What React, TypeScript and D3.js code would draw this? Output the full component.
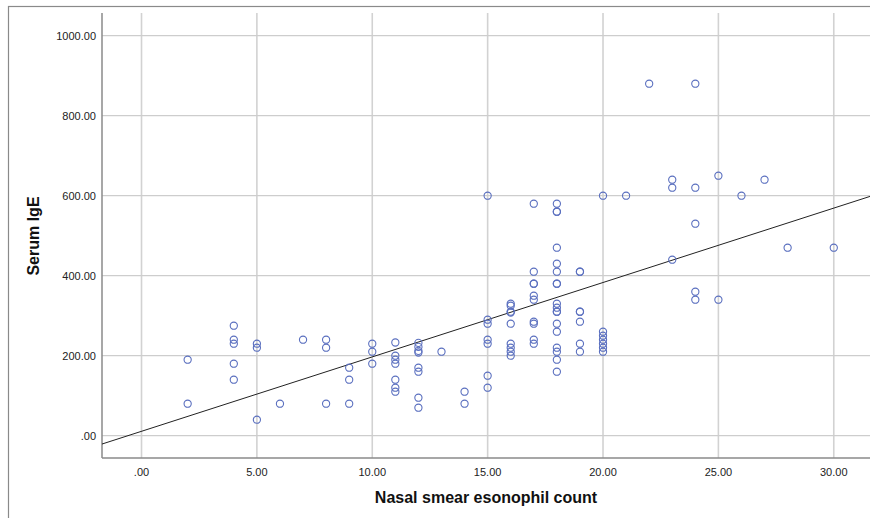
import React, { useEffect } from "react";
import * as d3 from "d3";

// eosinophil counts and the serum IgE values read at each count
const eosinophilCounts = [2, 4, 5, 6, 7, 8, 9, 10, 11, 12, 13, 14, 15, 16, 17, 18, 19, 20, 21, 22, 23, 24, 25, 26, 27, 28, 30];
const igeByCount = [
  [190, 80],
  [275, 240, 230, 180, 140],
  [230, 220, 40],
  [80],
  [240],
  [240, 220, 80],
  [170, 140, 80],
  [230, 210, 180],
  [233, 200, 190, 180, 140, 120, 110],
  [232, 222, 212, 208, 170, 160, 95, 70],
  [210],
  [110, 80],
  [600, 290, 280, 240, 230, 150, 120],
  [330, 325, 310, 308, 280, 230, 220, 210, 200],
  [580, 410, 380, 380, 350, 340, 285, 280, 240, 230],
  [580, 560, 560, 470, 430, 410, 380, 380, 330, 320, 310, 310, 280, 260, 220, 210, 190, 160],
  [410, 410, 310, 310, 285, 230, 210],
  [600, 260, 250, 240, 230, 220, 210],
  [600],
  [880],
  [640, 620, 440],
  [880, 620, 530, 360, 340],
  [650, 340],
  [600],
  [640],
  [470],
  [470],
];

const xTicks = [0, 5, 10, 15, 20, 25, 30];
const yTicks = [0, 200, 400, 600, 800, 1000];

// linear fit line
const fitIntercept = 11;
const fitSlope = 18.6;

const fmt = (v: number) => (v === 0 ? ".00" : v.toFixed(2));

export default function App() {
  useEffect(() => {
    document.body.style.margin = "0";
  }, []);

  const width = 870,
    height = 518;
  const left = 102,
    right = 870,
    top = 13,
    bottom = 458;

  const x = d3.scaleLinear().domain([-1.712, 31.57]).range([left, right]);
  const y = d3.scaleLinear().domain([-55.75, 1056.75]).range([bottom, top]);

  const points = eosinophilCounts.flatMap((c, i) => igeByCount[i].map((v) => ({ x: c, y: v })));

  const [x0, x1] = x.domain();
  const fitPath = d3
    .line<number>()
    .x((d) => x(d))
    .y((d) => y(fitIntercept + fitSlope * d))([x0, x1]);

  const font = "'Liberation Sans', Arial, sans-serif";

  return (
    <svg width={width} height={height} style={{ display: "block", background: "#fff" }}>
      {/* outer frame */}
      <rect x={8.5} y={6.5} width={900} height={600} fill="none" stroke="#8a8a8a" strokeWidth={1.2} />

      {/* grid */}
      {xTicks.map((t) => (
        <line key={"gx" + t} x1={x(t)} x2={x(t)} y1={top} y2={bottom} stroke="#d2d2d2" strokeWidth={1.6} />
      ))}
      {yTicks.map((t) => (
        <line key={"gy" + t} x1={left} x2={right} y1={y(t)} y2={y(t)} stroke="#cdcdcd" strokeWidth={1.2} />
      ))}

      {/* axes */}
      <line x1={left} x2={left} y1={top} y2={bottom} stroke="#8a8a8a" strokeWidth={1.5} />
      <line x1={left} x2={right} y1={bottom} y2={bottom} stroke="#8a8a8a" strokeWidth={1.5} />

      {/* tick labels */}
      {yTicks.map((t) => (
        <text key={"ly" + t} x={96} y={y(t)} dy="0.35em" textAnchor="end" fontFamily={font} fontSize={11} fill="#222">
          {fmt(t)}
        </text>
      ))}
      {xTicks.map((t) => (
        <text key={"lx" + t} x={x(t)} y={472} dy="0.35em" textAnchor="middle" fontFamily={font} fontSize={11} fill="#222">
          {fmt(t)}
        </text>
      ))}

      {/* fit line */}
      <path d={fitPath || ""} fill="none" stroke="#222" strokeWidth={1} />

      {/* points */}
      {points.map((p, i) => (
        <circle key={i} cx={x(p.x)} cy={y(p.y)} r={3.6} fill="none" stroke="#5a6fbf" strokeWidth={1.1} />
      ))}

      {/* titles */}
      <text x={486} y={503} textAnchor="middle" fontFamily={font} fontSize={16} fontWeight="bold" fill="#111">
        Nasal smear esonophil count
      </text>
      <text
        transform="translate(39,236) rotate(-90)"
        textAnchor="middle"
        fontFamily={font}
        fontSize={16}
        fontWeight="bold"
        fill="#111"
      >
        Serum IgE
      </text>
    </svg>
  );
}
